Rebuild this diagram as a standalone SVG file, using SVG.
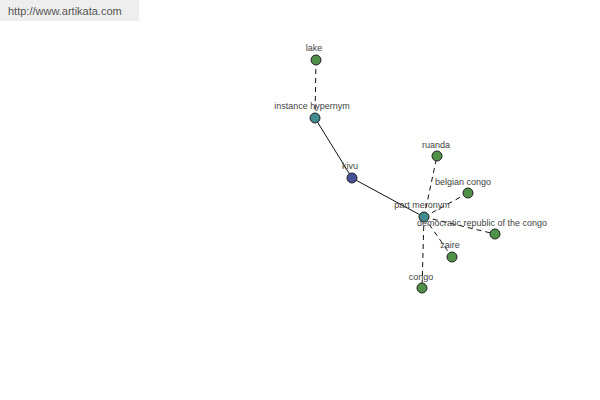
<svg xmlns="http://www.w3.org/2000/svg" width="600" height="400" viewBox="0 0 600 400">
<style>
.lbl{font-family:"Liberation Sans",Arial,sans-serif;font-size:9px;fill:#444;text-anchor:middle}
.n{stroke:#222;stroke-width:1}
.g{fill:#4f9149}
.t{fill:#3f8b8f}
.b{fill:#45509a}
.s{stroke:#111;stroke-width:1;fill:none}
.d{stroke:#111;stroke-width:1;fill:none;stroke-dasharray:5,4}
</style>
<rect x="0" y="0" width="139" height="21" fill="#eeeeee"/>
<text x="8" y="15" font-family="'Liberation Sans',Arial,sans-serif" font-size="11" fill="#555">http://www.artikata.com</text>
<g id="connectors">
<line class="d" x1="316" y1="60" x2="315" y2="118"/>
<line class="s" x1="315" y1="118" x2="352" y2="178"/>
<line class="s" x1="352" y1="178" x2="424" y2="217"/>
<line class="d" x1="424" y1="217" x2="437" y2="156"/>
<line class="d" x1="424" y1="217" x2="468" y2="193"/>
<line class="d" x1="424" y1="217" x2="495" y2="234"/>
<line class="d" x1="424" y1="217" x2="452" y2="257"/>
<line class="d" x1="424" y1="217" x2="422" y2="288"/>
</g>
<g id="lake"><circle class="n g" cx="316" cy="60" r="5"/><text class="lbl" x="314" y="51">lake</text></g>
<g id="instance-hypernym"><circle class="n t" cx="315" cy="118" r="5"/><text class="lbl" x="312" y="109">instance hypernym</text></g>
<g id="kivu"><circle class="n b" cx="352" cy="178" r="5"/><text class="lbl" x="350" y="169">kivu</text></g>
<g id="part-meronym"><circle class="n t" cx="424" cy="217" r="5"/><text class="lbl" x="422" y="208">part meronym</text></g>
<g id="ruanda"><circle class="n g" cx="437" cy="156" r="5"/><text class="lbl" x="436" y="148">ruanda</text></g>
<g id="belgian-congo"><circle class="n g" cx="468" cy="193" r="5"/><text class="lbl" x="463" y="185">belgian congo</text></g>
<g id="democratic-republic-of-the-congo"><circle class="n g" cx="495" cy="234" r="5"/><text class="lbl" x="482" y="226">democratic republic of the congo</text></g>
<g id="zaire"><circle class="n g" cx="452" cy="257" r="5"/><text class="lbl" x="450" y="248">zaire</text></g>
<g id="congo"><circle class="n g" cx="422" cy="288" r="5"/><text class="lbl" x="421" y="280">congo</text></g>
</svg>
